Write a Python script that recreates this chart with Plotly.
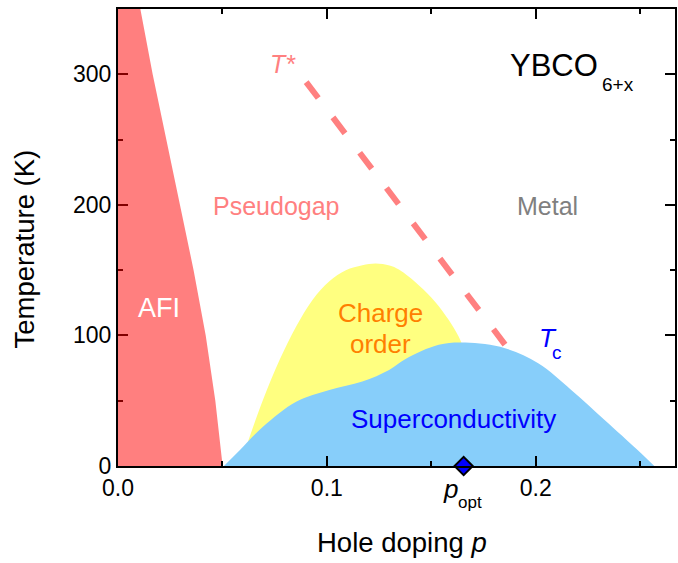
import plotly.graph_objects as go

# ---- data (hole doping p, temperature K) ----
afi_p = [0.0, 0.0, 0.0094, 0.0107, 0.0166, 0.0231, 0.0297, 0.0362, 0.0420, 0.0466, 0.0501]
afi_T = [0, 360, 360, 350, 300, 250, 200, 150, 100, 50, 0]

co_p = [0.0623, 0.0694, 0.0774, 0.0853, 0.0932, 0.1012, 0.1091, 0.1170, 0.1234, 0.1300, 0.1345, 0.1440, 0.1520, 0.1583, 0.1631, 0.1655]
co_T = [19, 50.6, 81.3, 106.9, 127.4, 141.4, 149.9, 153.7, 155, 153.5, 150.4, 138.5, 125.5, 112, 99.2, 90]

sc_p = [0.0507, 0.0584, 0.0694, 0.0853, 0.1012, 0.1170, 0.1298, 0.1377, 0.1536, 0.1663, 0.1853, 0.2012, 0.2170, 0.2330, 0.2488, 0.2568]
sc_T = [0, 12.3, 30.1, 49.3, 58.3, 64.7, 73.6, 82, 92.8, 94.5, 90.2, 78.7, 58.3, 35.3, 12.3, 0]

tstar_p = [0.0901, 0.1853]
tstar_T = [294, 93]

popt_p = [0.1655]
popt_T = [0]

x_ticks = [0.0, 0.1, 0.2]
x_ticklabels = ["0.0", "0.1", "0.2"]
y_ticks = [0, 100, 200, 300]

FONT = "Liberation Sans, Arial, Helvetica, sans-serif"
RED = "rgb(255,128,128)"

fig = go.Figure()

fig.add_trace(go.Scatter(x=afi_p, y=afi_T, mode="lines", fill="toself",
                         fillcolor="rgba(255,0,0,0.5)", line=dict(width=0),
                         hoverinfo="skip", showlegend=False))
fig.add_trace(go.Scatter(x=co_p, y=co_T, mode="lines", fill="tozeroy",
                         fillcolor="rgb(255,255,128)", line=dict(width=0, shape="spline", smoothing=1.0),
                         hoverinfo="skip", showlegend=False))
fig.add_trace(go.Scatter(x=sc_p, y=sc_T, mode="lines", fill="tozeroy",
                         fillcolor="rgb(135,206,250)", line=dict(width=0, shape="spline", smoothing=1.0),
                         hoverinfo="skip", showlegend=False))
fig.add_trace(go.Scatter(x=tstar_p, y=tstar_T, mode="lines",
                         line=dict(color=RED, width=6, dash="20px,24.3px"),
                         hoverinfo="skip", showlegend=False))
fig.add_trace(go.Scatter(x=popt_p, y=popt_T, mode="markers", cliponaxis=False,
                         marker=dict(symbol="diamond", size=14, color="rgb(0,0,255)",
                                     line=dict(color="black", width=2)),
                         hoverinfo="skip", showlegend=False))

def ann(x, y, text, size, color, xref="x", yref="y", angle=0):
    return dict(x=x, y=y, xref=xref, yref=yref, text=text, showarrow=False,
                xanchor="center", yanchor="middle", textangle=angle,
                font=dict(family=FONT, size=size, color=color))

annotations = [
    ann(0.0788, 308, "<i>T*</i>", 25, RED),
    ann(0.0761, 199.5, "Pseudogap", 25, RED),
    ann(0.2056, 199.5, "Metal", 25, "rgb(128,128,128)"),
    ann(0.2088, 306.5, "YBCO", 31, "black"),
    ann(0.2396, 292.0, "6+x", 19, "black"),
    ann(0.0197, 120.8, "AFI", 27, "white"),
    ann(0.1255, 117.5, "Charge", 26, "rgb(255,128,0)"),
    ann(0.1255, 93.4, "order", 26, "rgb(255,128,0)"),
    ann(0.1607, 35.9, "Superconductivity", 26, "rgb(0,0,255)"),
    ann(0.2058, 98.4, "<i>T</i>", 26, "rgb(0,0,255)"),
    ann(0.2100, 86.8, "c", 19, "rgb(0,0,255)"),
    ann(0.1590, -0.0505, "<i>p</i>", 26, "black", yref="paper"),
    ann(0.1685, -0.0792, "opt", 17, "black", yref="paper"),
    ann(0.509, -0.1674, "Hole doping <i>p</i>", 27.5, "black", xref="paper", yref="paper"),
    ann(-0.168, 0.4748, "Temperature (K)", 27.5, "black", xref="paper", yref="paper", angle=-90),
]

fig.update_layout(
    width=678, height=563,
    margin=dict(l=118, r=1, t=9, b=97),
    paper_bgcolor="white", plot_bgcolor="white",
    font=dict(family=FONT, size=23, color="black"),
    annotations=annotations,
    showlegend=False,
)
fig.update_xaxes(range=[0, 0.2667], showgrid=False, zeroline=False,
                 showline=True, linecolor="black", linewidth=2, mirror="allticks",
                 ticks="inside", ticklen=10, tickwidth=2, tickcolor="black",
                 tickvals=x_ticks, ticktext=x_ticklabels,
                 tickfont=dict(family=FONT, size=23, color="black"),
                 minor=dict(ticks="inside", ticklen=5, tickwidth=1.5, dtick=0.05, tick0=0, tickcolor="black", showgrid=False),
                 layer="above traces")
fig.update_yaxes(range=[0, 350], showgrid=False, zeroline=False,
                 showline=True, linecolor="black", linewidth=2, mirror="allticks",
                 ticks="inside", ticklen=10, tickwidth=2, tickcolor="black",
                 tickvals=y_ticks,
                 tickfont=dict(family=FONT, size=23, color="black"),
                 minor=dict(ticks="inside", ticklen=5, tickwidth=1.5, dtick=50, tick0=0, tickcolor="black", showgrid=False),
                 layer="below traces")

fig.write_html("out.html")
